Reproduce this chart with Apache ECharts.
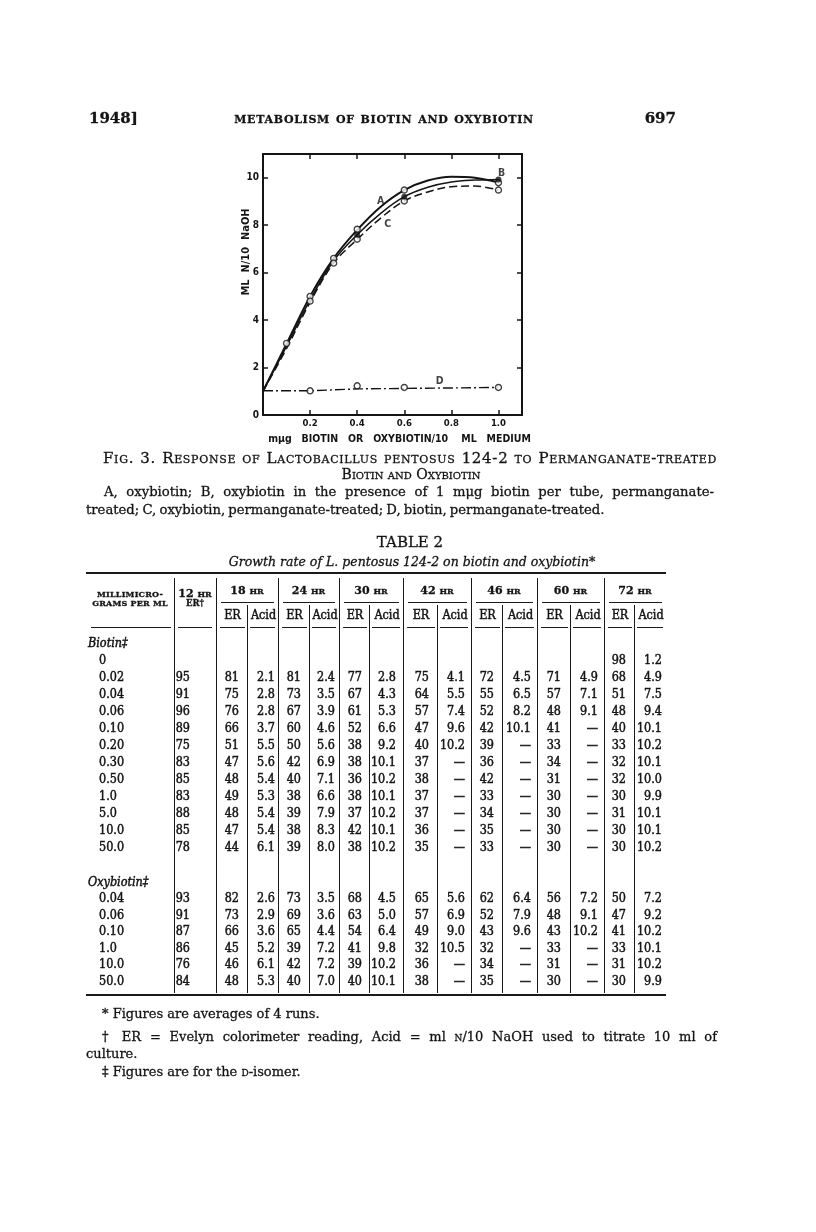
<!DOCTYPE html>
<html><head><meta charset="utf-8">
<script src="https://cdn.jsdelivr.net/npm/echarts@6/dist/echarts.min.js"></script>
<style>
html,body{margin:0;padding:0;background:#fff;}
#page{position:relative;width:816px;height:1232px;overflow:hidden;background:#fff;color:#111;}
#chart{position:absolute;left:0;top:0;width:816px;height:1232px;}
.t{position:absolute;white-space:nowrap;font-family:"DejaVu Serif",serif;color:#141414;line-height:1;-webkit-text-stroke:0.3px #141414;}
.sc{font-variant:small-caps;}
.num{font-family:"DejaVu Serif Condensed","DejaVu Serif",serif;font-size:12px;-webkit-text-stroke:0.45px #141414;}
.hl{position:absolute;background:#1a1a1a;}
</style></head>
<body><div id="page"><div id="chart"></div></div>
<script>
// ---------------- chart data ----------------
const curveA = [[0,1.0],[0.1,3.0],[0.2,5.0],[0.3,6.6],[0.4,7.8],[0.5,8.78],[0.6,9.48],[0.7,9.88],[0.8,10.04],[0.9,10.0],[1.0,9.8]];
const curveB = [[0,1.0],[0.1,2.9],[0.2,4.85],[0.3,6.5],[0.4,7.6],[0.5,8.5],[0.6,9.2],[0.7,9.6],[0.8,9.82],[0.9,9.9],[1.0,9.93]];
const curveC = [[0,1.0],[0.1,2.8],[0.2,4.75],[0.3,6.4],[0.4,7.4],[0.5,8.3],[0.6,9.02],[0.7,9.4],[0.8,9.62],[0.9,9.65],[1.0,9.48]];
const curveD = [[0,1.02],[0.2,1.02],[0.4,1.1],[0.6,1.12],[1.0,1.16]];
const pointsA = [[0.1,3.02],[0.2,5.0],[0.3,6.6],[0.4,7.83],[0.6,9.48],[1.0,9.79]];
const pointsB = [[0.4,7.6],[0.6,9.2],[1.0,9.93]];
const pointsC = [[0.2,4.8],[0.3,6.4],[0.4,7.41],[0.6,9.02],[1.0,9.48]];
const pointsD = [[0.2,1.02],[0.4,1.23],[0.6,1.16],[1.0,1.16]];
const curveLabels = [{name:'A',value:[0.50,9.0]},{name:'B',value:[1.013,10.19]},{name:'C',value:[0.53,8.05]},{name:'D',value:[0.75,1.43]}];
const xTickValues = [0.2,0.4,0.6,0.8,1.0];
const yTickValues = [0,2,4,6,8,10];

// ---------------- table data ----------------
const hours = ['18','24','30','42','46','60','72'];
const biotinDoses = ['0','0.02','0.04','0.06','0.10','0.20','0.30','0.50','1.0','5.0','10.0','50.0'];
const biotinRows = [
 ['','','','','','','','','','','','','','98','1.2'],
 ['95','81','2.1','81','2.4','77','2.8','75','4.1','72','4.5','71','4.9','68','4.9'],
 ['91','75','2.8','73','3.5','67','4.3','64','5.5','55','6.5','57','7.1','51','7.5'],
 ['96','76','2.8','67','3.9','61','5.3','57','7.4','52','8.2','48','9.1','48','9.4'],
 ['89','66','3.7','60','4.6','52','6.6','47','9.6','42','10.1','41','—','40','10.1'],
 ['75','51','5.5','50','5.6','38','9.2','40','10.2','39','—','33','—','33','10.2'],
 ['83','47','5.6','42','6.9','38','10.1','37','—','36','—','34','—','32','10.1'],
 ['85','48','5.4','40','7.1','36','10.2','38','—','42','—','31','—','32','10.0'],
 ['83','49','5.3','38','6.6','38','10.1','37','—','33','—','30','—','30','9.9'],
 ['88','48','5.4','39','7.9','37','10.2','37','—','34','—','30','—','31','10.1'],
 ['85','47','5.4','38','8.3','42','10.1','36','—','35','—','30','—','30','10.1'],
 ['78','44','6.1','39','8.0','38','10.2','35','—','33','—','30','—','30','10.2']
];
const oxyDoses = ['0.04','0.06','0.10','1.0','10.0','50.0'];
const oxyRows = [
 ['93','82','2.6','73','3.5','68','4.5','65','5.6','62','6.4','56','7.2','50','7.2'],
 ['91','73','2.9','69','3.6','63','5.0','57','6.9','52','7.9','48','9.1','47','9.2'],
 ['87','66','3.6','65','4.4','54','6.4','49','9.0','43','9.6','43','10.2','41','10.2'],
 ['86','45','5.2','39','7.2','41','9.8','32','10.5','32','—','33','—','33','10.1'],
 ['76','46','6.1','42','7.2','39','10.2','36','—','34','—','31','—','31','10.2'],
 ['84','48','5.3','40','7.0','40','10.1','38','—','35','—','30','—','30','9.9']
];

// ---------------- chart ----------------
const chart = echarts.init(document.getElementById('chart'), null, {renderer:'canvas'});
const ink = '#141414';
const lab = {fontFamily:'DejaVu Sans Condensed, DejaVu Sans, sans-serif', fontWeight:'bold', color:ink};
const axLine = {show:true, onZero:false, lineStyle:{color:ink, width:2}};
const axTick = {show:true, inside:true, length:5, lineStyle:{color:ink, width:1.5}};
const fmt1 = v => xTickValues.some(t => Math.abs(t - v) < 1e-6) ? v.toFixed(1) : '';
const fmtY = v => yTickValues.indexOf(Math.round(v)) >= 0 && Math.abs(v - Math.round(v)) < 1e-6 ? String(Math.round(v)) : '';
const openSym = {color:'#fff', borderColor:ink, borderWidth:1.4};
chart.setOption({
  animation:false,
  backgroundColor:'transparent',
  grid:{left:263, top:154, width:259, height:261, containLabel:false},
  xAxis:[
    {type:'value', min:0, max:1.1, interval:0.2, position:'bottom', axisLine:axLine, axisTick:axTick, splitLine:{show:false},
     axisLabel:Object.assign({formatter:fmt1, margin:4, fontSize:9.5}, lab),
     name:'mμg   BIOTIN   OR   OXYBIOTIN/10    ML   MEDIUM', nameLocation:'middle', nameGap:19,
     nameTextStyle:Object.assign({fontSize:10.5, padding:[0,0,0,14]}, lab)},
    {type:'value', min:0, max:1.1, interval:0.2, position:'top', axisLine:axLine, axisTick:axTick, splitLine:{show:false}, axisLabel:{show:false}}
  ],
  yAxis:[
    {type:'value', min:0, max:11, interval:2, position:'left', axisLine:axLine, axisTick:axTick, splitLine:{show:false},
     axisLabel:Object.assign({formatter:fmtY, margin:4, fontSize:10}, lab)},
    {type:'value', min:0, max:11, interval:2, position:'right', axisLine:axLine, axisTick:axTick, splitLine:{show:false}, axisLabel:{show:false}}
  ],
  graphic:[{type:'text', x:246, y:252, rotation:Math.PI/2,
    style:{text:'ML  N/10  NaOH', align:'center', verticalAlign:'middle', fill:ink,
      font:'bold 11px "DejaVu Sans Condensed", sans-serif'}}],
  series:[
    {type:'line', data:curveA, smooth:0.35, showSymbol:false, lineStyle:{color:ink, width:2}, z:2},
    {type:'line', data:curveB, smooth:0.35, showSymbol:false, lineStyle:{color:ink, width:1.5}, z:2},
    {type:'line', data:curveC, smooth:0.35, showSymbol:false, lineStyle:{color:ink, width:1.5, type:[8,4]}, z:2},
    {type:'line', data:curveD, smooth:false, showSymbol:false, lineStyle:{color:ink, width:1.4, type:[10,3,2,3]}, z:2},
    {type:'scatter', data:pointsA, symbol:'circle', symbolSize:6, itemStyle:openSym, z:5},
    {type:'scatter', data:pointsB, symbol:'circle', symbolSize:6, itemStyle:{color:ink}, z:6},
    {type:'scatter', data:pointsC, symbol:'circle', symbolSize:6, itemStyle:openSym, z:5},
    {type:'scatter', data:pointsD, symbol:'circle', symbolSize:6, itemStyle:openSym, z:5},
    {type:'scatter', data:curveLabels, symbolSize:1, itemStyle:{color:'rgba(0,0,0,0)'}, z:7,
     label:Object.assign({show:true, position:'inside', formatter:'{b}', fontSize:10.5}, lab)}
  ]
});

// ---------------- page text & table (HTML) ----------------
const page = document.getElementById('page');
function txt(x, y, html, cls, align, extra) {
  const d = document.createElement('div');
  d.className = 't ' + (cls || '');
  d.innerHTML = html;
  let tx = align === 'center' ? '-50%' : (align === 'right' ? '-100%' : '0');
  d.style.left = x + 'px'; d.style.top = y + 'px';
  d.style.transform = 'translate(' + tx + ',-50%)';
  if (extra) Object.assign(d.style, extra);
  page.appendChild(d);
  return d;
}
function line(x, y, w, h) {
  const d = document.createElement('div');
  d.className = 'hl';
  d.style.left = x + 'px'; d.style.top = y + 'px'; d.style.width = w + 'px'; d.style.height = h + 'px';
  page.appendChild(d);
}
function block(x, y, w, html, fs, extra) {
  const d = document.createElement('div');
  d.className = 't';
  d.innerHTML = html;
  Object.assign(d.style, {left:x+'px', top:y+'px', width:w+'px', fontSize:fs+'px', textAlign:'justify', textAlignLast:'justify', whiteSpace:'nowrap'});
  d.style.transform = 'translateY(-50%)';
  if (extra) Object.assign(d.style, extra);
  page.appendChild(d);
}

// running head
txt(89, 118, '1948]', '', 'left', {fontSize:'15px', fontWeight:'bold'});
txt(384, 118, 'metabolism of biotin and oxybiotin', 'sc', 'center', {fontSize:'15px', fontWeight:'bold', letterSpacing:'0.7px'});
txt(676, 118, '697', '', 'right', {fontSize:'15px', fontWeight:'bold'});

// figure caption
block(103, 458, 614, 'Fig. 3. Response of Lactobacillus pentosus 124-2 to Permanganate-treated', 15, {fontVariant:'small-caps', letterSpacing:'0.7px'});
txt(411, 474, 'Biotin and Oxybiotin', 'sc', 'center', {fontSize:'14px'});
block(104, 492, 610, 'A, oxybiotin; B, oxybiotin in the presence of 1 mμg biotin per tube, permanganate-', 13.2);
txt(86, 510, 'treated; C, oxybiotin, permanganate-treated; D, biotin, permanganate-treated.', '', 'left', {fontSize:'13.2px', wordSpacing:'-1px'});

// table title
txt(410, 542, 'TABLE 2', '', 'center', {fontSize:'15px'});
txt(412, 562, 'Growth rate of <i>L. pentosus 124-2</i> on biotin and oxybiotin*', '', 'center', {fontSize:'12.5px', fontStyle:'italic'});

// table rules
const tLeft = 86, tRight = 666;
line(tLeft, 572, tRight - tLeft, 1.6);
line(tLeft, 994, tRight - tLeft, 1.6);
const groupX = [174, 216, 278, 339, 403, 471, 537, 604, tRight];
const subX = [247, 309, 369, 437, 502, 570, 634];
for (let i = 0; i < 8; i++) line(groupX[i], 578, 1.2, 415);
for (let i = 0; i < 7; i++) line(subX[i], 605, 1.2, 388);
for (let g = 0; g < 7; g++) {
  const l = groupX[g + 1], r = groupX[g + 2];
  line(l + 5, 602, r - l - 9, 1.2);
  line(l + 4, 627, subX[g] - l - 6, 1.2);
  line(subX[g] + 3, 627, r - subX[g] - 6, 1.2);
}
line(tLeft + 5, 627, groupX[0] - tLeft - 8, 1.2);
line(groupX[0] + 4, 627, groupX[1] - groupX[0] - 8, 1.2);

// header text
const hdr = {fontSize:'8px', fontWeight:'bold', letterSpacing:'0.2px'};
txt(130, 594, 'MILLIMICRO-', '', 'center', hdr);
txt(130, 603, 'GRAMS PER ML', '', 'center', hdr);
txt(195, 593, '12 <span style="font-size:8px">HR</span>', '', 'center', {fontSize:'11px', fontWeight:'bold'});
txt(195, 603, 'ER†', '', 'center', {fontSize:'8.5px', fontWeight:'bold'});
for (let g = 0; g < 7; g++) {
  const l = groupX[g + 1], r = groupX[g + 2];
  txt((l + r) / 2, 590, hours[g] + ' <span style="font-size:8px">HR</span>', '', 'center', {fontSize:'11px', fontWeight:'bold'});
  txt((l + subX[g]) / 2 + 1, 615, 'ER', 'num', 'center', {fontSize:'12.5px'});
  txt((subX[g] + r) / 2 + 1, 615, 'Acid', 'num', 'center', {fontSize:'12.5px'});
}

// body
const colRight = [190, 239, 275, 301, 335, 362, 396, 429, 465, 494, 531, 561, 598, 626, 662];
function rowOut(label, cells, y) {
  txt(99, y, label, 'num', 'left', {fontSize:'12.5px'});
  cells.forEach((c, j) => { if (c !== '') txt(colRight[j], y, c, 'num', 'right', {fontSize:'12.5px'}); });
}
txt(88, 643, 'Biotin‡', 'num', 'left', {fontStyle:'italic', fontSize:'12.5px'});
biotinDoses.forEach((d, i) => rowOut(d, biotinRows[i], 660 + i * 17.0));
txt(88, 882, 'Oxybiotin‡', 'num', 'left', {fontStyle:'italic', fontSize:'12.5px'});
oxyDoses.forEach((d, i) => rowOut(d, oxyRows[i], 898 + i * 16.6));

// footnotes
txt(102, 1013, '* Figures are averages of 4 runs.', '', 'left', {fontSize:'13px'});
block(102, 1036, 615, '† ER = Evelyn colorimeter reading, Acid = ml <span style="font-variant:small-caps">n</span>/10 NaOH used to titrate 10 ml of', 13);
txt(86, 1053, 'culture.', '', 'left', {fontSize:'13px'});
txt(102, 1071, '‡ Figures are for the <span style="font-variant:small-caps">d</span>-isomer.', '', 'left', {fontSize:'13px'});
</script>
</body></html>
